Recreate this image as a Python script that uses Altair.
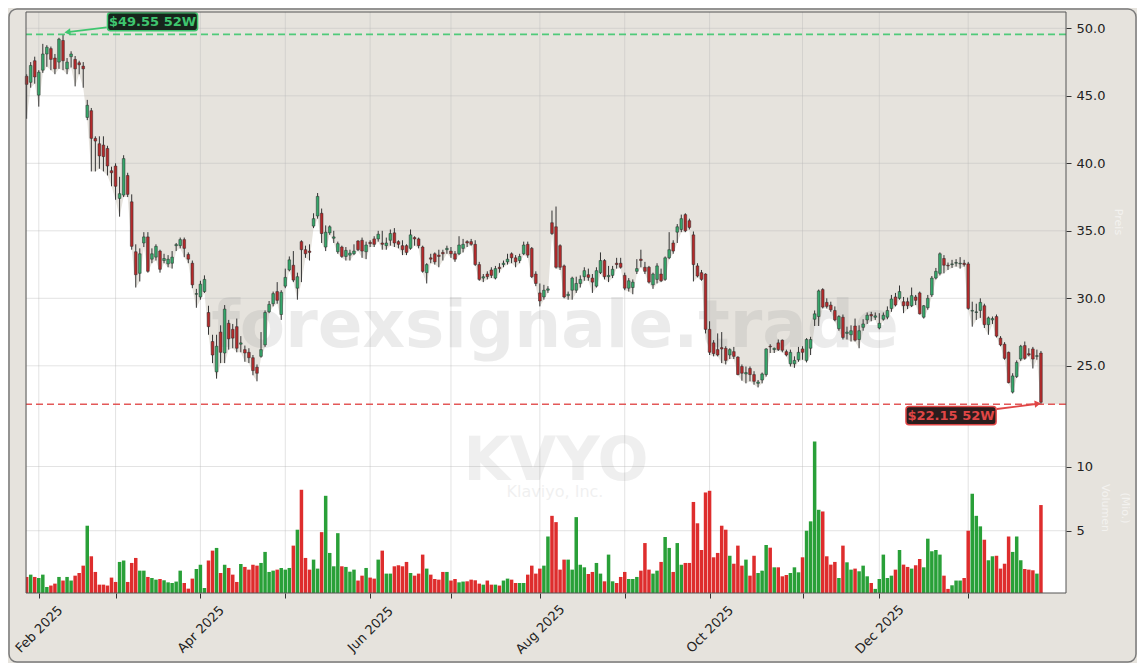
import json
import altair as alt
import pandas as pd

# ---------------- data (KVYO, daily, 52 weeks) ----------------
OPEN = [
    46.45, 46.0, 47.6, 45.05, 46.9, 48.1, 48.5, 47.8, 47.5, 49.1,
    47.0, 47.9, 47.7, 47.45, 47.2, 43.4, 43.9, 41.85, 41.45, 41.35,
    41.1, 39.45, 39.8, 37.4, 37.65, 39.1, 37.15, 33.45, 31.85, 34.1,
    34.55, 32.9, 33.05, 33.5, 32.8, 32.55, 32.6, 33.9, 33.9, 34.35,
    33.25, 32.6, 30.3, 30.1, 30.5, 28.95, 26.8, 24.55, 27.5, 25.95,
    28.15, 27.7, 27.9, 26.6, 26.2, 26.0, 25.6, 24.9, 25.7, 26.55,
    29.0, 29.6, 30.5, 28.8, 30.9, 32.1, 32.45, 30.75, 34.2, 33.6,
    33.5, 35.35, 36.1, 36.3, 33.8, 34.85, 34.45, 33.45, 33.8, 33.1,
    33.2, 33.3, 34.25, 34.3, 33.45, 34.15, 34.4, 34.4, 34.1, 33.9,
    34.3, 34.85, 34.2, 33.9, 33.9, 33.7, 34.5, 34.4, 33.8, 31.9,
    33.0, 33.3, 33.2, 33.4, 33.6, 33.5, 33.3, 33.3, 33.7, 34.2,
    34.2, 34.0, 32.5, 31.5, 31.8, 32.1, 31.5, 32.3, 32.5, 32.7,
    33.3, 33.0, 32.8, 33.3, 34.0, 33.7, 31.8, 30.4, 30.1, 30.6,
    35.6, 35.3, 33.9, 32.4, 30.2, 30.6, 30.6, 31.1, 31.6, 31.75,
    31.5, 30.9, 31.9, 32.8, 31.6, 31.7, 32.6, 32.6, 31.7, 30.75,
    30.8, 32.0, 32.9, 32.3, 32.3, 31.0, 31.4, 31.8, 31.4, 33.0,
    34.1, 34.9, 35.1, 36.2, 35.75, 34.7, 32.4, 31.9, 31.8, 27.7,
    26.7, 26.2, 26.35, 26.3, 25.8, 26.05, 25.65, 24.95, 24.4, 24.8,
    24.35, 23.7, 23.95, 24.35, 26.45, 26.2, 26.7, 26.9, 26.05, 25.15,
    25.15, 25.45, 26.25, 25.4, 26.3, 28.45, 28.65, 30.65, 29.7, 29.5,
    29.1, 27.75, 28.6, 27.4, 27.3, 27.95, 26.95, 27.85, 28.4, 28.8,
    28.6, 27.8, 28.45, 28.6, 29.25, 30.1, 30.0, 29.75, 29.75, 29.45,
    30.1, 30.4, 28.6, 29.3, 30.25, 31.5, 31.85, 32.95, 32.45, 32.5,
    32.6, 32.55, 32.6, 32.55, 29.05, 28.95, 29.1, 29.45, 28.05, 28.4,
    28.65, 27.05, 26.6, 26.0, 23.05, 24.2, 25.5, 26.5, 25.9, 26.25,
    25.7, 25.95,
]
HIGH = [
    46.6, 47.5, 47.9, 46.9, 48.85, 48.75, 48.65, 48.1, 49.3, 49.55,
    47.8, 48.3, 47.95, 47.6, 47.5, 44.7, 44.1, 42.0, 42.0, 42.0,
    41.3, 39.75, 40.0, 39.0, 40.6, 39.3, 37.7, 34.0, 33.7, 34.9,
    34.9, 33.7, 34.0, 33.6, 33.3, 33.2, 33.5, 34.1, 34.5, 34.5,
    33.4, 32.8, 30.7, 31.3, 31.7, 29.45, 27.3, 27.3, 28.0, 29.5,
    28.4, 28.1, 28.5, 27.2, 26.5, 26.3, 25.8, 25.1, 27.5, 29.1,
    29.8, 30.5, 31.2, 30.6, 32.2, 33.1, 33.5, 31.9, 34.3, 33.9,
    34.0, 36.3, 37.8, 36.65, 35.4, 35.4, 35.0, 34.2, 33.9, 33.8,
    33.6, 34.0, 34.3, 34.5, 34.2, 34.3, 34.6, 35.0, 35.0, 34.5,
    35.1, 35.2, 34.3, 34.3, 34.0, 35.1, 34.6, 34.5, 33.9, 32.6,
    33.3, 33.4, 33.6, 33.6, 33.9, 33.8, 33.5, 34.6, 34.4, 34.3,
    34.4, 34.3, 32.7, 31.8, 32.0, 32.3, 32.4, 32.6, 32.8, 33.3,
    33.4, 33.2, 33.3, 34.2, 34.2, 33.8, 32.0, 31.1, 31.0, 30.9,
    36.5, 36.8, 34.0, 32.5, 30.5, 31.6, 31.6, 31.7, 32.3, 32.2,
    31.8, 32.3, 33.4, 32.9, 32.4, 32.4, 33.0, 33.0, 31.9, 31.5,
    31.4, 32.9, 33.6, 32.7, 32.4, 31.9, 32.6, 32.2, 33.1, 34.9,
    34.3, 35.5, 36.2, 36.3, 35.9, 34.95, 32.6, 32.1, 31.85, 28.3,
    26.9, 27.4, 27.5, 26.45, 26.3, 26.4, 25.7, 25.1, 24.95, 24.95,
    24.6, 23.95, 24.5, 26.3, 26.6, 26.35, 26.95, 26.95, 26.2, 26.2,
    25.7, 26.4, 26.45, 27.05, 27.15, 29.1, 30.65, 30.75, 30.0, 29.75,
    29.4, 28.75, 28.8, 27.9, 28.0, 28.5, 28.0, 28.45, 28.95, 29.0,
    28.95, 28.9, 28.95, 29.4, 30.25, 30.4, 30.95, 30.1, 30.05, 30.8,
    30.25, 30.5, 29.5, 30.25, 31.65, 32.25, 33.4, 33.2, 32.65, 32.85,
    32.9, 33.05, 32.85, 32.7, 29.75, 29.6, 30.0, 29.6, 28.65, 28.65,
    28.8, 27.2, 26.75, 26.05, 24.45, 25.4, 26.55, 26.8, 26.3, 26.4,
    26.2, 26.1,
]
LOW = [
    43.3, 45.6, 45.9, 44.2, 46.7, 47.15, 46.9, 46.6, 47.0, 46.9,
    46.6, 47.1, 45.7, 46.6, 45.6, 43.2, 39.4, 39.4, 39.6, 39.4,
    39.1, 38.3, 37.3, 36.05, 37.5, 37.5, 33.6, 30.8, 31.25, 33.8,
    31.9, 32.6, 32.8, 31.9, 32.6, 32.3, 32.2, 33.5, 33.7, 33.05,
    32.6, 30.75, 29.3, 29.9, 30.4, 27.3, 25.2, 24.05, 25.2, 25.2,
    26.2, 26.3, 26.0, 26.0, 25.3, 25.2, 24.3, 23.85, 25.6, 26.4,
    28.9, 29.4, 29.6, 28.4, 30.75, 32.0, 31.2, 29.9, 31.2, 33.0,
    32.8, 35.2, 35.9, 34.1, 33.5, 34.7, 34.1, 33.3, 33.0, 32.8,
    32.8, 33.2, 33.5, 33.0, 32.9, 33.8, 33.8, 34.2, 33.6, 33.6,
    33.9, 33.8, 33.7, 33.2, 33.2, 33.6, 33.9, 33.7, 31.9, 31.1,
    32.6, 32.5, 32.3, 32.8, 33.3, 33.0, 32.7, 33.2, 33.4, 33.8,
    33.9, 32.4, 31.3, 31.2, 31.4, 31.5, 31.4, 31.9, 32.3, 32.5,
    32.6, 32.3, 32.6, 33.2, 33.0, 31.5, 30.9, 29.4, 29.9, 30.4,
    34.7, 32.2, 32.1, 30.0, 29.9, 29.9, 30.4, 30.8, 31.3, 31.3,
    30.4, 30.8, 31.8, 31.4, 31.2, 31.5, 32.2, 32.2, 30.6, 30.5,
    30.3, 31.8, 32.3, 31.8, 31.1, 30.7, 31.1, 31.2, 31.3, 32.9,
    33.3, 34.1, 34.9, 34.9, 35.1, 31.25, 31.55, 31.3, 27.4, 25.8,
    25.7, 25.7, 25.2, 25.1, 25.5, 25.5, 24.3, 23.9, 23.7, 23.85,
    23.6, 23.4, 23.7, 24.2, 25.95, 25.95, 26.1, 26.0, 25.7, 24.95,
    24.85, 25.3, 25.45, 25.25, 25.8, 27.95, 27.95, 29.25, 29.25, 29.0,
    28.3, 27.6, 26.95, 26.95, 26.8, 26.8, 26.3, 27.6, 28.1, 28.3,
    28.4, 27.7, 28.35, 28.45, 29.0, 29.4, 29.9, 28.9, 29.2, 29.35,
    29.5, 28.8, 28.5, 29.15, 30.1, 31.4, 31.7, 31.85, 32.1, 32.25,
    32.35, 32.2, 32.35, 29.15, 27.9, 28.4, 28.55, 27.8, 27.3, 28.1,
    27.1, 26.45, 25.45, 23.7, 22.95, 24.1, 25.35, 25.45, 25.7, 24.8,
    25.45, 22.15,
]
CLOSE = [
    45.85, 47.25, 46.4, 46.75, 48.1, 48.6, 47.7, 47.0, 49.2, 47.6,
    47.5, 48.1, 47.0, 47.3, 47.0, 44.3, 41.85, 41.65, 40.55, 40.5,
    39.8, 39.3, 38.3, 37.75, 40.35, 37.7, 33.85, 31.75, 33.3, 34.55,
    32.0, 33.3, 33.85, 32.15, 32.95, 32.9, 33.05, 33.98, 34.35, 33.7,
    32.9, 31.0, 30.35, 31.05, 31.4, 27.9, 25.8, 26.45, 26.0, 29.2,
    27.0, 27.05, 26.3, 26.7, 25.95, 25.6, 24.65, 24.45, 26.2, 28.95,
    29.55, 30.35, 29.85, 30.45, 31.55, 32.85, 31.35, 31.6, 33.6, 33.3,
    33.4, 35.9, 37.55, 34.8, 34.9, 35.3, 34.55, 34.05, 33.1, 33.55,
    33.35, 33.5, 33.6, 33.5, 33.95, 34.05, 34.0, 34.75, 34.0, 34.1,
    34.8, 34.1, 34.0, 33.6, 33.4, 34.7, 34.4, 33.9, 32.0, 32.5,
    32.9, 32.7, 33.1, 33.3, 33.7, 33.3, 32.9, 33.95, 34.0, 34.1,
    34.0, 32.5, 31.4, 31.6, 31.6, 31.7, 32.2, 32.2, 32.6, 32.9,
    33.0, 32.7, 33.1, 33.95, 33.2, 31.6, 31.1, 29.8, 30.6, 30.7,
    34.8, 32.3, 32.3, 30.1, 30.3, 31.5, 31.1, 31.4, 32.05, 31.55,
    31.2, 32.05, 32.8, 31.6, 31.7, 32.15, 32.5, 32.3, 30.75, 31.3,
    31.2, 32.2, 32.8, 32.0, 31.2, 31.8, 32.4, 31.3, 33.0, 33.6,
    33.5, 35.3, 35.9, 35.0, 35.25, 32.5, 31.65, 31.4, 27.7, 26.0,
    25.9, 25.8, 26.25, 25.4, 26.2, 25.7, 24.35, 24.45, 24.5, 24.35,
    23.85, 23.8, 24.4, 26.25, 26.4, 26.3, 26.2, 26.15, 25.8, 26.0,
    25.4, 26.0, 26.0, 26.95, 26.95, 28.85, 30.55, 29.35, 29.4, 29.15,
    28.4, 28.65, 27.1, 27.5, 27.6, 26.9, 27.6, 28.1, 28.75, 28.7,
    28.7, 28.15, 28.75, 29.1, 29.95, 29.5, 30.5, 29.45, 29.45, 30.2,
    29.85, 28.85, 29.45, 30.0, 31.5, 32.0, 33.3, 32.45, 32.4, 32.55,
    32.65, 32.6, 32.5, 29.25, 29.1, 29.0, 29.7, 28.05, 28.55, 28.5,
    27.2, 26.55, 25.55, 23.75, 24.25, 25.25, 26.45, 25.55, 25.8, 25.5,
    25.75, 22.3,
]
VOLUME = [  # millions of shares
    1.40, 1.58, 1.40, 1.32, 1.58, 0.62, 0.73, 0.88, 1.40, 1.12,
    1.40, 1.12, 1.50, 1.71, 2.28, 5.39, 3.01, 1.79, 0.80, 0.80,
    0.73, 1.35, 1.01, 2.57, 2.68, 1.01, 2.49, 2.88, 1.89, 1.89,
    1.40, 1.32, 1.19, 1.24, 1.14, 0.98, 0.93, 1.04, 1.89, 0.93,
    0.49, 1.27, 2.02, 2.35, 0.54, 2.68, 3.45, 3.66, 1.71, 2.35,
    2.10, 1.58, 1.01, 2.41, 2.18, 1.97, 2.35, 2.28, 2.49, 3.35,
    1.79, 1.89, 1.97, 2.10, 1.97, 2.10, 3.84, 5.08, 8.19, 2.88,
    1.97, 2.75, 2.05, 4.89, 7.72, 3.27, 2.23, 4.81, 2.23, 2.18,
    1.81, 1.97, 1.12, 1.50, 2.10, 1.35, 1.27, 2.75, 3.45, 1.66,
    1.66, 2.23, 2.31, 2.23, 2.57, 1.71, 1.50, 1.66, 3.14, 2.05,
    1.58, 1.24, 1.19, 1.79, 1.79, 1.12, 1.24, 0.98, 1.04, 1.06,
    1.19, 1.14, 0.88, 0.80, 1.12, 0.80, 0.80, 0.73, 1.12, 1.27,
    1.19, 0.93, 0.93, 0.93, 1.58, 2.28, 1.66, 2.05, 2.28, 4.55,
    6.16, 5.67, 1.97, 2.75, 2.75, 1.97, 6.06, 2.35, 2.15, 1.63,
    1.79, 2.49, 1.66, 1.06, 3.14, 1.06, 0.93, 1.40, 1.79, 1.24,
    1.24, 1.40, 1.89, 4.04, 1.97, 1.66, 1.89, 2.57, 4.51, 3.66,
    1.79, 4.04, 2.35, 2.49, 2.49, 7.24, 5.58, 3.50, 7.98, 8.11,
    2.93, 3.27, 5.39, 5.08, 3.05, 2.43, 3.84, 2.28, 2.75, 1.50,
    3.05, 1.71, 1.89, 3.89, 3.68, 2.15, 2.15, 1.45, 1.55, 1.71,
    2.15, 1.76, 2.93, 5.00, 5.73, 11.94, 6.63, 6.50, 3.01, 2.36,
    2.57, 1.32, 3.84, 2.54, 1.97, 2.05, 1.84, 2.28, 1.45, 0.93,
    0.47, 1.24, 3.14, 1.32, 1.50, 1.97, 3.50, 2.36, 2.18, 2.05,
    2.31, 2.80, 2.15, 4.38, 3.40, 3.50, 3.14, 1.50, 0.47, 0.75,
    1.12, 1.12, 1.32, 5.00, 7.88, 6.16, 5.34, 4.30, 2.70, 3.01,
    3.05, 2.05, 2.43, 4.55, 3.35, 4.55, 2.70, 2.02, 1.97, 1.92,
    1.66, 7.00,
]

# trading-day index of the first session of each month, and their labels
MONTH_TICKS = [3, 22, 43, 64, 85, 105, 127, 148, 169, 192, 211, 233]
MONTH_LABELS = ["Feb 2025", "", "Apr 2025", "", "Jun 2025", "", "Aug 2025", "",
                "Oct 2025", "", "Dec 2025", ""]
PRICE_TICKS = [25, 30, 35, 40, 45, 50]
VOLUME_TICKS = [5, 10]
WATERMARK = ["forexsignale.trade", "KVYO", "Klaviyo, Inc."]
AXIS_TITLES = ["Preis", "Volumen", "(Mio.)"]

# ---------------- layout / style ----------------
W, H = 1040, 581
X_DOMAIN = [-0.16, 257.2]
PRICE_DOMAIN = [8.17, 51.21]
VOLUME_DOMAIN = [0.15, 45.4]
BG = "#e6e3dd"
UP, DOWN = "#36a66a", "#b42a2b"
VUP, VDOWN = "#1e9b2d", "#dc2222"
HI_COL, LO_COL = "#3fc66f", "#e04646"
FONT = "DejaVu Sans"

n = len(CLOSE)
df = pd.DataFrame({"i": list(range(n)), "open": OPEN, "high": HIGH,
                   "low": LOW, "close": CLOSE, "volume": VOLUME})
area_df = pd.DataFrame({"i": list(range(n)) + [X_DOMAIN[1]], "low": LOW + [LOW[-1]]})

xs = alt.Scale(domain=X_DOMAIN, nice=False, zero=False, padding=0)
ps = alt.Scale(domain=PRICE_DOMAIN, nice=False, zero=False, padding=0)
vs = alt.Scale(domain=VOLUME_DOMAIN, nice=False, zero=False, padding=0)

label_expr = f"{json.dumps(MONTH_LABELS)}[indexof({json.dumps(MONTH_TICKS)}, datum.value)]"
AX = dict(domain=False, grid=False, tickSize=5, tickColor="#333333", tickWidth=1,
          labelFontSize=13, labelColor="#222222", labelFont=FONT, title=None)
# the same x axis definition is given to every layer, so that the shared axis merges cleanly
x_axis = alt.Axis(values=MONTH_TICKS, labelExpr=label_expr, labelAngle=315,
                  labelAlign="center", labelBaseline="middle", labelPadding=31,
                  labelOverlap=False, labelFlush=False, **AX)
price_axis = alt.Axis(orient="right", values=PRICE_TICKS, format=".1f", labelPadding=5,
                      offset=0, **AX)
vol_axis = alt.Axis(orient="right", values=VOLUME_TICKS, format="d", labelPadding=5,
                    offset=0, **AX)


def X(f):
    return alt.X(f, scale=xs, axis=x_axis)


def YP(f, axis=None):
    return alt.Y(f, scale=ps, axis=axis)


GRID = dict(color="#b9b9b9", opacity=0.4, strokeWidth=1)

# white fill below the daily lows
area = alt.Chart(area_df).mark_area(color="white", clip=True).encode(
    x=X("i:Q"), y=YP("low:Q"), y2=alt.datum(PRICE_DOMAIN[0]))

grid_x = alt.Chart(pd.DataFrame({"m": MONTH_TICKS})).mark_rule(**GRID).encode(x=X("m:Q"))
grid_p = alt.Chart(pd.DataFrame({"p": PRICE_TICKS})).mark_rule(**GRID).encode(
    y=YP("p:Q"))
grid_v = alt.Chart(pd.DataFrame({"v": VOLUME_TICKS})).mark_rule(**GRID).encode(
    y=alt.Y("v:Q", scale=vs, axis=None))

wm = pd.DataFrame({"t": WATERMARK})


def watermark(k, size, weight, opacity, px, py):
    return alt.Chart(wm.iloc[[k]]).mark_text(
        font=FONT, fontSize=size, fontWeight=weight, color="#8a8a8a", opacity=opacity,
        align="center", baseline="alphabetic").encode(
        text="t:N", x=alt.value(px), y=alt.value(py))


wm1 = watermark(0, 66, "bold", 0.16, 529, 335)
wm2 = watermark(1, 60, "bold", 0.13, 530, 468)
wm3 = watermark(2, 16, "normal", 0.12, 529, 485)

wicks = alt.Chart(df).mark_rule(color="#333333", strokeWidth=1).encode(
    x=X("i:Q"), y=YP("low:Q", price_axis), y2="high:Q")
bodies = alt.Chart(df).mark_bar(width=2.7, stroke="#2a2a2a", strokeWidth=0.5).encode(
    x=X("i:Q"), y=YP("open:Q"), y2="close:Q",
    color=alt.condition("datum.close >= datum.open", alt.value(UP), alt.value(DOWN)))
vol = alt.Chart(df).mark_bar(width=3.5, opacity=0.95, clip=True).encode(
    x=X("i:Q"), y=alt.Y("volume:Q", scale=vs, axis=vol_axis), y2=alt.datum(0),
    color=alt.condition("datum.close >= datum.open", alt.value(VUP), alt.value(VDOWN)))

# 52-week high / low markers
HI = max(HIGH)
HI_I = HIGH.index(HI)
LO = min(LOW)
LO_I = LOW.index(LO)

hi_line = alt.Chart(pd.DataFrame({"p": [HI]})).mark_rule(
    color=HI_COL, strokeDash=[7, 4], strokeWidth=1.6, opacity=0.9).encode(y=YP("p:Q"))
lo_line = alt.Chart(pd.DataFrame({"p": [LO]})).mark_rule(
    color=LO_COL, strokeDash=[7, 4], strokeWidth=1.6, opacity=0.9).encode(y=YP("p:Q"))

ann = pd.DataFrame({
    "x1": [HI_I + 11.0, LO_I - 33.4], "x2": [HI_I + 33.3, LO_I - 11.1],
    "y1": [HI + 0.27, LO - 0.16], "y2": [HI + 1.60, LO - 1.51],
    "xc": [HI_I + 22.15, LO_I - 22.25], "yc": [HI + 0.935, LO - 0.835],
    "tx": [HI_I + 10.8, LO_I - 10.9], "ty": [HI + 0.52, LO - 0.35],
    "hx": [HI_I + 1.1, LO_I - 0.8], "hy": [HI + 0.17, LO + 0.04],
    "label": [f"${HI:.2f} 52W", f"${LO:.2f} 52W"],
})


def annotation(row, col, fill, angle, shape):
    d = ann.iloc[[row]]
    box = alt.Chart(d).mark_rect(fill=fill, stroke=col, strokeWidth=1.5, cornerRadius=3).encode(
        x=X("x1:Q"), x2="x2:Q", y=YP("y1:Q"), y2="y2:Q")
    txt = alt.Chart(d).mark_text(font=FONT, fontSize=13, fontWeight="bold", color=col,
                                 align="center", baseline="middle").encode(
        x=X("xc:Q"), y=YP("yc:Q"), text="label:N")
    line = alt.Chart(d).mark_rule(color=col, strokeWidth=1.8).encode(
        x=X("tx:Q"), x2="hx:Q", y=YP("ty:Q"), y2="hy:Q")
    head = alt.Chart(d).mark_point(shape=shape, filled=True, size=50, angle=angle,
                                   color=col, opacity=1).encode(x=X("hx:Q"), y=YP("hy:Q"))
    return [box, txt, line, head]


one = pd.DataFrame({"k": [0]})
frame = alt.Chart(one).mark_rect(filled=False, color="#555555", strokeWidth=1).encode(
    x=alt.value(0), x2=alt.value(W), y=alt.value(0), y2=alt.value(H))
outer = alt.Chart(one).mark_rect(filled=False, color="#7a7a7a", strokeWidth=1.5,
                                 cornerRadius=8).encode(
    x=alt.value(-17), x2=alt.value(W + 70), y=alt.value(-3), y2=alt.value(H + 69))

tt = pd.DataFrame({"t": AXIS_TITLES})


def side_title(k, px, py):
    return alt.Chart(tt.iloc[[k]]).mark_text(
        font=FONT, fontSize=11, color="#ffffff", opacity=0.55, angle=90,
        align="center", baseline="middle").encode(
        text="t:N", x=alt.value(px), y=alt.value(py))


chart = alt.layer(
    area, grid_x, grid_p, grid_v, wm1, wm2, wm3, vol, wicks, bodies, hi_line, lo_line,
    *annotation(0, HI_COL, "#17251c", 353, "triangle-left"),
    *annotation(1, LO_COL, "#2b1d1d", 353, "triangle-right"),
    frame, outer,
    side_title(0, 1092, 210), side_title(1, 1079, 496), side_title(2, 1099, 496),
).resolve_scale(
    y="independent"
).properties(
    width=W, height=H,
    padding={"left": 18, "top": 4, "right": 71, "bottom": 70},
    autosize=alt.AutoSizeParams(type="none"),
    background=BG,
).configure(font=FONT).configure_view(strokeWidth=0)

chart.save("out.html", embed_options={"renderer": "svg", "actions": False})
